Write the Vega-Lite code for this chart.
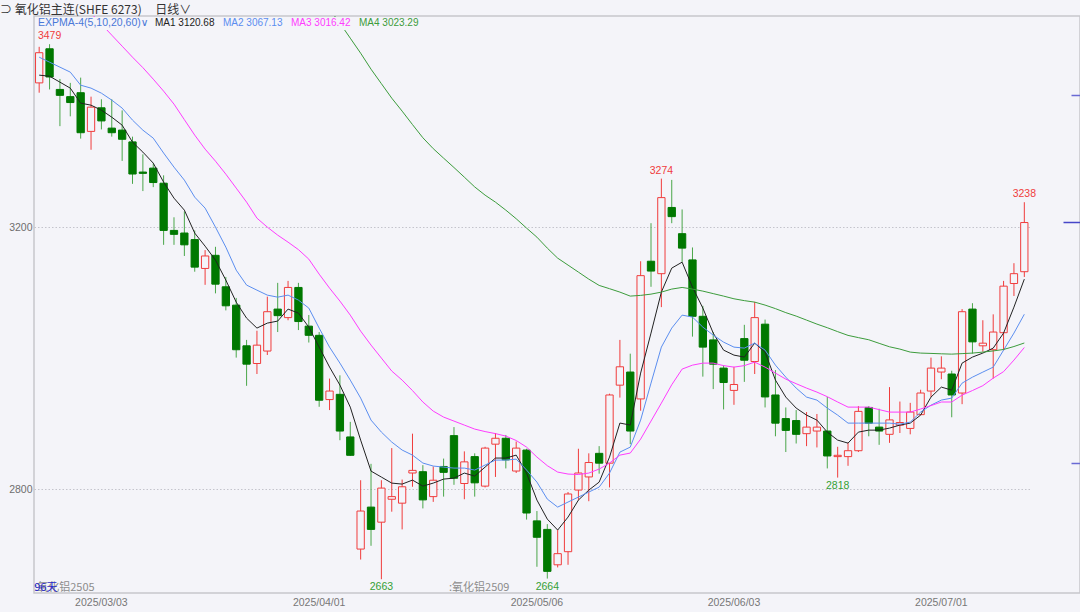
{
  "$schema": "https://vega.github.io/schema/vega-lite/v6.json",
  "width": 1046,
  "height": 577,
  "autosize": {"type": "none"},
  "padding": {"left": 34, "top": 16, "right": 0, "bottom": 19},
  "background": "#f4f4f9",
  "config": {
    "view": {"stroke": "#c6c6cc", "strokeWidth": 1.5},
    "font": "Liberation Sans, DejaVu Sans, Noto Sans CJK SC, sans-serif"
  },
  "title": {
    "text": "⊃ 氧化铝主连(SHFE 6273)\u00a0\u00a0\u00a0\u00a0\u00a0日线∨",
    "anchor": "start",
    "frame": "group",
    "orient": "top",
    "baseline": "bottom",
    "offset": 2,
    "dx": -34,
    "dy": 15,
    "fontSize": 12,
    "fontWeight": "normal",
    "color": "#333333",
    "font": "Noto Sans CJK SC, sans-serif"
  },
  "datasets": {
    "k": [
      {"d":"2025/02/21","o":3420,"h":3475,"l":3405,"c":3466,"m1":3431.8,"m2":3459.2},
      {"d":"2025/02/24","o":3472,"h":3479,"l":3410,"c":3429,"m1":3430.2,"m2":3451.6},
      {"d":"2025/02/25","o":3410,"h":3426,"l":3354,"c":3401,"m1":3421.1,"m2":3444.0},
      {"d":"2025/02/26","o":3399,"h":3420,"l":3369,"c":3390,"m1":3412.0,"m2":3436.4},
      {"d":"2025/02/27","o":3405,"h":3428,"l":3335,"c":3344,"m1":3389.1,"m2":3416.5},
      {"d":"2025/02/28","o":3346,"h":3399,"l":3318,"c":3383,"m1":3386.0,"m2":3412.0,"m3":3526.3},
      {"d":"2025/03/03","o":3382,"h":3395,"l":3349,"c":3362,"m1":3378.4,"m2":3404.3,"m3":3509.6},
      {"d":"2025/03/04","o":3351,"h":3395,"l":3338,"c":3344,"m1":3367.7,"m2":3393.7,"m3":3492.8},
      {"d":"2025/03/05","o":3348,"h":3378,"l":3301,"c":3334,"m1":3355.5,"m2":3381.5,"m3":3476.0},
      {"d":"2025/03/06","o":3330,"h":3338,"l":3266,"c":3281,"m1":3329.6,"m2":3363.2,"m3":3459.2},
      {"d":"2025/03/07","o":3284,"h":3311,"l":3255,"c":3282,"m1":3314.4,"m2":3347.9,"m3":3443.2},
      {"d":"2025/03/10","o":3290,"h":3297,"l":3261,"c":3268,"m1":3297.6,"m2":3335.7,"m3":3425.7},
      {"d":"2025/03/11","o":3267,"h":3279,"l":3173,"c":3195,"m1":3268.6,"m2":3313.0,"m3":3407.4},
      {"d":"2025/03/12","o":3195,"h":3215,"l":3173,"c":3189,"m1":3244.2,"m2":3291.5,"m3":3387.6},
      {"d":"2025/03/13","o":3191,"h":3224,"l":3156,"c":3173,"m1":3225.9,"m2":3271.7,"m3":3363.9},
      {"d":"2025/03/14","o":3181,"h":3195,"l":3132,"c":3139,"m1":3190.9,"m2":3245.7,"m3":3340.3},
      {"d":"2025/03/17","o":3137,"h":3165,"l":3112,"c":3156,"m1":3171.0,"m2":3229.0,"m3":3319.0},
      {"d":"2025/03/18","o":3157,"h":3170,"l":3099,"c":3113,"m1":3149.7,"m2":3200.0,"m3":3300.6},
      {"d":"2025/03/19","o":3109,"h":3124,"l":3073,"c":3080,"m1":3119.2,"m2":3169.5,"m3":3280.8},
      {"d":"2025/03/20","o":3081,"h":3092,"l":3001,"c":3013,"m1":3085.6,"m2":3134.4,"m3":3259.5},
      {"d":"2025/03/21","o":3019,"h":3028,"l":2958,"c":2991,"m1":3061.2,"m2":3111.6,"m3":3238.1},
      {"d":"2025/03/24","o":2992,"h":3042,"l":2976,"c":3020,"m1":3046.0,"m2":3103.9,"m3":3213.7},
      {"d":"2025/03/25","o":3011,"h":3094,"l":3005,"c":3071,"m1":3053.6,"m2":3096.3,"m3":3200.0},
      {"d":"2025/03/26","o":3075,"h":3115,"l":3040,"c":3065,"m1":3056.7,"m2":3093.2,"m3":3187.8},
      {"d":"2025/03/27","o":3062,"h":3118,"l":3058,"c":3108,"m1":3075.0,"m2":3096.3,"m3":3177.1},
      {"d":"2025/03/28","o":3108,"h":3115,"l":3043,"c":3056,"m1":3068.9,"m2":3088.7,"m3":3165.7},
      {"d":"2025/03/31","o":3049,"h":3066,"l":3024,"c":3035,"m1":3047.5,"m2":3076.5,"m3":3151.2},
      {"d":"2025/04/01","o":3035,"h":3040,"l":2926,"c":2936,"m1":3017.0,"m2":3046.0,"m3":3128.3},
      {"d":"2025/04/02","o":2937,"h":2969,"l":2921,"c":2950,"m1":2986.6,"m2":3017.0,"m3":3107.0,"m4":3532.4},
      {"d":"2025/04/03","o":2945,"h":2974,"l":2875,"c":2889,"m1":2959.1,"m2":2992.6,"m3":3087.2,"m4":3511.1},
      {"d":"2025/04/07","o":2880,"h":2903,"l":2851,"c":2852,"m1":2925.5,"m2":2966.7,"m3":3065.8,"m4":3488.2},
      {"d":"2025/04/08","o":2709,"h":2814,"l":2693,"c":2767,"m1":2875.2,"m2":2939.3,"m3":3041.4,"m4":3465.3},
      {"d":"2025/04/09","o":2773,"h":2839,"l":2714,"c":2739,"m1":2827.9,"m2":2905.7,"m3":3020.1,"m4":3440.9},
      {"d":"2025/04/10","o":2750,"h":2814,"l":2663,"c":2802,"m1":2818.8,"m2":2887.4,"m3":3000.3,"m4":3418.8},
      {"d":"2025/04/11","o":2785,"h":2863,"l":2766,"c":2789,"m1":2809.6,"m2":2872.2,"m3":2980.5,"m4":3396.7},
      {"d":"2025/04/14","o":2779,"h":2815,"l":2739,"c":2804,"m1":2808.1,"m2":2860.0,"m3":2966.7,"m4":3376.9},
      {"d":"2025/04/15","o":2825,"h":2885,"l":2804,"c":2829,"m1":2814.2,"m2":2852.3,"m3":2950.7,"m4":3356.4},
      {"d":"2025/04/16","o":2827,"h":2837,"l":2771,"c":2784,"m1":2805.0,"m2":2840.2,"m3":2933.3,"m4":3336.3},
      {"d":"2025/04/17","o":2789,"h":2835,"l":2781,"c":2814,"m1":2809.6,"m2":2835.6,"m3":2919.4,"m4":3319.7},
      {"d":"2025/04/18","o":2835,"h":2847,"l":2789,"c":2826,"m1":2815.7,"m2":2834.0,"m3":2910.3,"m4":3305.2},
      {"d":"2025/04/21","o":2882,"h":2895,"l":2807,"c":2817,"m1":2817.2,"m2":2832.5,"m3":2904.2,"m4":3290.9},
      {"d":"2025/04/22","o":2809,"h":2858,"l":2785,"c":2842,"m1":2824.9,"m2":2832.5,"m3":2898.1,"m4":3276.2},
      {"d":"2025/04/23","o":2850,"h":2855,"l":2789,"c":2810,"m1":2820.3,"m2":2829.5,"m3":2892.0,"m4":3261.3},
      {"d":"2025/04/24","o":2805,"h":2865,"l":2803,"c":2863,"m1":2834.0,"m2":2837.1,"m3":2888.2,"m4":3248.8},
      {"d":"2025/04/25","o":2869,"h":2886,"l":2819,"c":2878,"m1":2847.8,"m2":2844.7,"m3":2885.1,"m4":3238.1},
      {"d":"2025/04/28","o":2878,"h":2883,"l":2832,"c":2845,"m1":2847.8,"m2":2844.7,"m3":2881.3,"m4":3225.9},
      {"d":"2025/04/29","o":2828,"h":2873,"l":2825,"c":2863,"m1":2852.3,"m2":2846.2,"m3":2874.6,"m4":3212.8},
      {"d":"2025/04/30","o":2860,"h":2862,"l":2754,"c":2764,"m1":2824.9,"m2":2829.5,"m3":2864.5,"m4":3198.5},
      {"d":"2025/05/06","o":2752,"h":2767,"l":2682,"c":2727,"m1":2783.7,"m2":2811.1,"m3":2849.3,"m4":3184.7},
      {"d":"2025/05/07","o":2739,"h":2747,"l":2664,"c":2675,"m1":2754.7,"m2":2785.2,"m3":2836.2,"m4":3168.0},
      {"d":"2025/05/08","o":2685,"h":2738,"l":2681,"c":2702,"m1":2738.0,"m2":2773.0,"m3":2826.4,"m4":3152.7},
      {"d":"2025/05/09","o":2705,"h":2796,"l":2685,"c":2793,"m1":2757.8,"m2":2780.7,"m3":2823.4,"m4":3142.1},
      {"d":"2025/05/12","o":2799,"h":2862,"l":2784,"c":2825,"m1":2783.7,"m2":2788.3,"m3":2822.7,"m4":3131.4},
      {"d":"2025/05/13","o":2819,"h":2855,"l":2782,"c":2841,"m1":2798.9,"m2":2795.9,"m3":2824.9,"m4":3120.7},
      {"d":"2025/05/14","o":2855,"h":2866,"l":2824,"c":2840,"m1":2811.1,"m2":2803.5,"m3":2831.0,"m4":3111.1},
      {"d":"2025/05/15","o":2840,"h":2946,"l":2803,"c":2944,"m1":2849.3,"m2":2824.9,"m3":2840.1,"m4":3106.1},
      {"d":"2025/05/16","o":2959,"h":3028,"l":2940,"c":2987,"m1":2901.2,"m2":2856.9,"m3":2852.3,"m4":3100.9},
      {"d":"2025/05/19","o":2979,"h":3007,"l":2869,"c":2889,"m1":2898.1,"m2":2864.5,"m3":2855.4,"m4":3094.8},
      {"d":"2025/05/20","o":2938,"h":3148,"l":2920,"c":3126,"m1":2977.4,"m2":2905.7,"m3":2876.7,"m4":3095.9},
      {"d":"2025/05/21","o":3148,"h":3206,"l":3109,"c":3133,"m1":3038.4,"m2":2962.1,"m3":2904.2,"m4":3097.8},
      {"d":"2025/05/22","o":3129,"h":3274,"l":3078,"c":3245,"m1":3100.9,"m2":3017.0,"m3":2931.6,"m4":3100.9},
      {"d":"2025/05/23","o":3230,"h":3272,"l":3206,"c":3216,"m1":3137.5,"m2":3046.0,"m3":2959.6,"m4":3105.5},
      {"d":"2025/05/26","o":3190,"h":3227,"l":3147,"c":3168,"m1":3146.6,"m2":3065.8,"m3":2983.5,"m4":3108.0},
      {"d":"2025/05/27","o":3150,"h":3169,"l":3033,"c":3064,"m1":3108.5,"m2":3062.8,"m3":2989.5,"m4":3105.5},
      {"d":"2025/05/28","o":3064,"h":3080,"l":2972,"c":3017,"m1":3076.5,"m2":3047.5,"m3":2992.6,"m4":3102.4},
      {"d":"2025/05/29","o":3028,"h":3040,"l":2953,"c":2991,"m1":3038.4,"m2":3035.3,"m3":2992.6,"m4":3098.6},
      {"d":"2025/05/30","o":2985,"h":2989,"l":2922,"c":2963,"m1":3012.4,"m2":3024.6,"m3":2988.8,"m4":3094.8},
      {"d":"2025/06/03","o":2951,"h":2987,"l":2929,"c":2960,"m1":3004.8,"m2":3017.0,"m3":2986.5,"m4":3090.7},
      {"d":"2025/06/04","o":3030,"h":3051,"l":2964,"c":2997,"m1":3001.8,"m2":3015.5,"m3":2988.8,"m4":3087.9},
      {"d":"2025/06/05","o":2995,"h":3086,"l":2976,"c":3062,"m1":3023.1,"m2":3023.1,"m3":2994.1,"m4":3085.6},
      {"d":"2025/06/06","o":3052,"h":3059,"l":2925,"c":2941,"m1":3009.4,"m2":3012.4,"m3":2986.5,"m4":3081.1},
      {"d":"2025/06/09","o":2944,"h":2982,"l":2881,"c":2901,"m1":2966.7,"m2":2989.5,"m3":2977.4,"m4":3075.7},
      {"d":"2025/06/10","o":2908,"h":2925,"l":2857,"c":2890,"m1":2940.8,"m2":2971.2,"m3":2968.2,"m4":3069.6},
      {"d":"2025/06/11","o":2905,"h":2921,"l":2870,"c":2884,"m1":2924.0,"m2":2954.5,"m3":2961.2,"m4":3064.3},
      {"d":"2025/06/12","o":2885,"h":2918,"l":2866,"c":2895,"m1":2913.3,"m2":2940.8,"m3":2954.5,"m4":3058.2},
      {"d":"2025/06/13","o":2889,"h":2915,"l":2864,"c":2895,"m1":2905.7,"m2":2936.2,"m3":2948.4,"m4":3052.1},
      {"d":"2025/06/16","o":2889,"h":2941,"l":2832,"c":2851,"m1":2887.4,"m2":2924.0,"m3":2941.4,"m4":3046.6},
      {"d":"2025/06/17","o":2850,"h":2865,"l":2818,"c":2852,"m1":2875.2,"m2":2913.3,"m3":2933.3,"m4":3040.6},
      {"d":"2025/06/18","o":2850,"h":2871,"l":2836,"c":2859,"m1":2870.6,"m2":2901.1,"m3":2925.5,"m4":3034.9},
      {"d":"2025/06/19","o":2859,"h":2927,"l":2857,"c":2919,"m1":2887.4,"m2":2901.1,"m3":2925.5,"m4":3031.5},
      {"d":"2025/06/20","o":2925,"h":2927,"l":2881,"c":2901,"m1":2890.4,"m2":2901.1,"m3":2925.5,"m4":3028.2},
      {"d":"2025/06/23","o":2895,"h":2923,"l":2868,"c":2889,"m1":2890.4,"m2":2901.1,"m3":2921.7,"m4":3022.8},
      {"d":"2025/06/24","o":2884,"h":2956,"l":2871,"c":2906,"m1":2893.5,"m2":2901.1,"m3":2917.9,"m4":3017.5},
      {"d":"2025/06/25","o":2898,"h":2934,"l":2886,"c":2902,"m1":2898.1,"m2":2899.6,"m3":2917.9,"m4":3014.0},
      {"d":"2025/06/26","o":2893,"h":2932,"l":2884,"c":2918,"m1":2901.1,"m2":2902.6,"m3":2917.9,"m4":3009.4},
      {"d":"2025/06/27","o":2914,"h":2952,"l":2913,"c":2947,"m1":2913.3,"m2":2917.9,"m3":2922.6,"m4":3007.9},
      {"d":"2025/06/30","o":2950,"h":3001,"l":2941,"c":2985,"m1":2940.8,"m2":2928.5,"m3":2927.8,"m4":3007.4},
      {"d":"2025/07/01","o":2979,"h":3003,"l":2968,"c":2985,"m1":2956.0,"m2":2936.2,"m3":2933.3,"m4":3006.8},
      {"d":"2025/07/02","o":2976,"h":2981,"l":2910,"c":2944,"m1":2951.4,"m2":2939.3,"m3":2933.3,"m4":3006.3},
      {"d":"2025/07/03","o":2947,"h":3075,"l":2930,"c":3071,"m1":2992.6,"m2":2962.1,"m3":2943.8,"m4":3007.1},
      {"d":"2025/07/04","o":3075,"h":3084,"l":3007,"c":3025,"m1":3001.8,"m2":2971.2,"m3":2950.8,"m4":3007.9},
      {"d":"2025/07/07","o":3019,"h":3058,"l":3010,"c":3023,"m1":3007.9,"m2":2978.9,"m3":2958.2,"m4":3009.4},
      {"d":"2025/07/08","o":3013,"h":3067,"l":2969,"c":3040,"m1":3015.5,"m2":2986.5,"m3":2969.7,"m4":3011.2},
      {"d":"2025/07/09","o":3039,"h":3118,"l":3012,"c":3110,"m1":3038.4,"m2":3012.4,"m3":2979.6,"m4":3013.4},
      {"d":"2025/07/10","o":3114,"h":3145,"l":3095,"c":3129,"m1":3078.0,"m2":3038.4,"m3":2997.2,"m4":3017.9},
      {"d":"2025/07/11","o":3132,"h":3238,"l":3124,"c":3207,"m1":3120.68,"m2":3067.13,"m3":3016.42,"m4":3023.29}
    ],
    "tx": [
      {"d":"2025/02/24","v":3479,"t":"3479","k":"hi"},
      {"d":"2025/05/22","v":3274,"t":"3274","k":"hi"},
      {"d":"2025/07/11","v":3238,"t":"3238","k":"hi"},
      {"d":"2025/04/10","v":2663,"t":"2663","k":"lo"},
      {"d":"2025/05/07","v":2664,"t":"2664","k":"lo"},
      {"d":"2025/06/17","v":2818,"t":"2818","k":"lo"},
      {"d":"2025/02/21","t":":氧化铝2505","k":"ct"},
      {"d":"2025/04/21","t":":氧化铝2509","k":"ct"},
      {"d":"2025/02/21","t":"96天","k":"ct"}
    ]
  },
  "encoding": {
    "x": {
      "field": "d",
      "type": "ordinal",
      "scale": {"type": "band", "paddingInner": 0, "paddingOuter": 0, "range": [0, 995.5]},
      "axis": {
        "values": ["2025/03/03", "2025/04/01", "2025/05/06", "2025/06/03", "2025/07/01"],
        "title": null,
        "domain": false,
        "ticks": false,
        "grid": false,
        "labelAngle": 0,
        "labelPadding": 4,
        "labelFontSize": 10.5,
        "labelColor": "#777777",
        "labelDx": 4,
        "labelOverlap": false,
        "labelBound": false,
        "labelFlush": false
      }
    }
  },
  "layer": [
    {
      "data": {"name": "k"},
      "mark": {"type": "rule", "strokeWidth": 1},
      "encoding": {
        "y": {
          "field": "l",
          "type": "quantitative",
          "scale": {"domain": [2642, 3522], "zero": false, "nice": false},
          "axis": {
            "values": [2800, 3200],
            "format": "d",
            "title": null,
            "domain": false,
            "ticks": false,
            "grid": true,
            "gridColor": "#c4c4cc",
            "gridDash": [1.5, 2],
            "gridWidth": 1,
            "labelColor": "#6e6e6e",
            "labelFontSize": 10.5,
            "labelPadding": 2
          }
        },
        "y2": {"field": "h"},
        "color": {"condition": {"test": "datum.c >= datum.o", "value": "#f03c3c"}, "value": "#4aa64a"}
      }
    },
    {
      "data": {"name": "k"},
      "mark": {"type": "bar", "width": 7.3, "strokeWidth": 1},
      "encoding": {
        "y": {"field": "o", "type": "quantitative", "axis": null},
        "y2": {"field": "c"},
        "fill": {"condition": {"test": "datum.c >= datum.o", "value": "#f4f4f9"}, "value": "#007800"},
        "stroke": {"condition": {"test": "datum.c >= datum.o", "value": "#f03c3c"}, "value": "#007800"}
      }
    },
    {
      "data": {"name": "k"},
      "transform": [
        {"fold": ["m1", "m2", "m3", "m4"], "as": ["s", "v"]},
        {"filter": "isValid(datum.v)"}
      ],
      "mark": {"type": "line", "strokeWidth": 1, "clip": true},
      "encoding": {
        "y": {"field": "v", "type": "quantitative", "axis": null},
        "color": {
          "field": "s",
          "type": "nominal",
          "scale": {"domain": ["m1", "m2", "m3", "m4"], "range": ["#222222", "#5b8ef0", "#ff3cff", "#3c9c3c"]},
          "legend": {
            "orient": "none",
            "legendX": 3,
            "legendY": 1,
            "direction": "horizontal",
            "title": "EXPMA-4(5,10,20,60)∨",
            "titleOrient": "left",
            "titleColor": "#4a78d8",
            "titleFontSize": 10.5,
            "titleFontWeight": "normal",
            "titlePadding": 6,
            "titleBaseline": "middle",
            "symbolSize": 0,
            "symbolOpacity": 0,
            "symbolStrokeWidth": 0,
            "labelOffset": -10,
            "columnPadding": 8,
            "labelFontSize": 10,
            "labelExpr": "{'m1':'MA1 3120.68','m2':'MA2 3067.13','m3':'MA3 3016.42','m4':'MA4 3023.29'}[datum.label]",
            "fillColor": "#f4f4f9",
            "padding": 1,
            "encode": {"labels": {"update": {"fill": {"signal": "scale('color', datum.value)"}}}}
          }
        }
      }
    },
    {
      "data": {"name": "tx"},
      "transform": [{"filter": "datum.k == 'hi'"}],
      "mark": {"type": "text", "baseline": "bottom", "dy": -3, "fontSize": 10.5, "color": "#f03c3c"},
      "encoding": {
        "y": {
          "field": "v",
          "type": "quantitative",
          "axis": {"orient": "right", "values": [3208], "title": null, "labels": false, "domain": false, "grid": false, "ticks": true, "tickSize": 17, "offset": -17, "tickColor": "#4646c8", "tickWidth": 1.5}
        },
        "text": {"field": "t"}
      }
    },
    {
      "data": {"name": "tx"},
      "transform": [{"filter": "datum.k == 'lo'"}],
      "mark": {"type": "text", "baseline": "top", "dy": 3, "fontSize": 10.5, "color": "#35a035"},
      "encoding": {
        "y": {
          "field": "v",
          "type": "quantitative",
          "axis": {"orient": "right", "values": [3401, 2841], "title": null, "labels": false, "domain": false, "grid": false, "ticks": true, "tickSize": 9, "offset": -9, "tickColor": "#6a6ad4", "tickWidth": 1.5}
        },
        "text": {"field": "t"}
      }
    },
    {
      "data": {"name": "tx"},
      "transform": [{"filter": "datum.k == 'ct'"}],
      "mark": {"type": "text", "align": "left", "baseline": "middle", "dx": -5, "fontSize": 11, "font": "Noto Sans CJK SC, sans-serif"},
      "encoding": {
        "y": {"datum": 2650, "type": "quantitative", "axis": null},
        "text": {"field": "t"},
        "color": {"condition": {"test": "datum.t == '96天'", "value": "#2a2ac8"}, "value": "#8c8c8c"}
      }
    }
  ],
  "resolve": {"axis": {"y": "independent"}}
}
